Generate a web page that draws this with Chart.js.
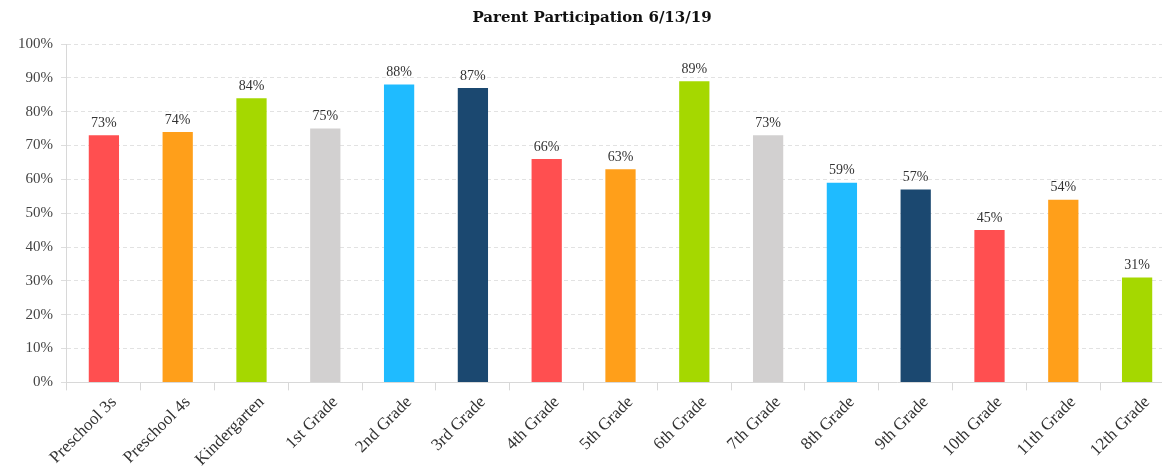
<!DOCTYPE html>
<html>
<head>
<meta charset="utf-8">
<script src="https://cdn.jsdelivr.net/npm/chart.js@4"></script>
<style>
  html, body { margin: 0; padding: 0; background: #fff; overflow: hidden; }
  #wrap { width: 1174px; height: 472px; }
</style>
</head>
<body>
<div id="wrap"><canvas id="grafico"></canvas></div>
<script>
const grades = ['Preschool 3s', 'Preschool 4s', 'Kindergarten', '1st Grade', '2nd Grade', '3rd Grade',
  '4th Grade', '5th Grade', '6th Grade', '7th Grade', '8th Grade', '9th Grade', '10th Grade', '11th Grade', '12th Grade'];
const participation = [73, 74, 84, 75, 88, 87, 66, 63, 89, 73, 59, 57, 45, 54, 31];
const palette = ['#FF4F50', '#FF9F1A', '#A5D800', '#D2D0D0', '#1FBBFF', '#1B4870'];

const serif = "'Liberation Serif', 'DejaVu Serif', serif";

// draws the % value above each bar
const valueLabels = {
  id: 'valueLabels',
  afterDatasetsDraw(chart) {
    const { ctx } = chart;
    const meta = chart.getDatasetMeta(0);
    ctx.save();
    ctx.font = '14px ' + serif;
    ctx.fillStyle = '#333';
    ctx.textAlign = 'center';
    ctx.textBaseline = 'bottom';
    meta.data.forEach((bar, i) => {
      ctx.fillText(participation[i] + '%', bar.x, bar.y - 5);
    });
    ctx.restore();
  }
};

new Chart(document.getElementById('grafico'), {
  type: 'bar',
  data: {
    labels: grades,
    datasets: [{
      data: participation,
      backgroundColor: grades.map((g, i) => palette[i % palette.length]),
      barPercentage: 0.41,
      categoryPercentage: 1
    }]
  },
  options: {
    responsive: true,
    maintainAspectRatio: false,
    animation: false,
    layout: { padding: { left: 10, top: 0, right: 0, bottom: 0 } },
    plugins: {
      legend: { display: false },
      tooltip: { enabled: false },
      title: {
        display: true,
        text: 'Parent Participation 6/13/19',
        color: '#111',
        font: { family: "'DejaVu Serif', serif", size: 15, weight: 'bold' },
        padding: { top: 9, bottom: 17 }
      }
    },
    scales: {
      y: {
        min: 0,
        max: 100,
        ticks: {
          stepSize: 10,
          color: '#444',
          font: { family: serif, size: 15 },
          padding: 8,
          callback: v => v + '%'
        },
        grid: { color: '#e2e2e2', drawTicks: true, tickLength: 6, tickColor: '#ddd' },
        border: { color: '#d8d8d8', dash: [4, 3] }
      },
      x: {
        offset: true,
        ticks: {
          color: '#333',
          font: { family: serif, size: 17 },
          maxRotation: 45,
          minRotation: 45,
          padding: 2,
          labelOffset: 10
        },
        grid: { display: true, drawOnChartArea: false, offset: true, tickLength: 8, color: '#d8d8d8' },
        border: { color: '#d8d8d8' }
      }
    }
  },
  plugins: [valueLabels]
});
</script>
</body>
</html>
